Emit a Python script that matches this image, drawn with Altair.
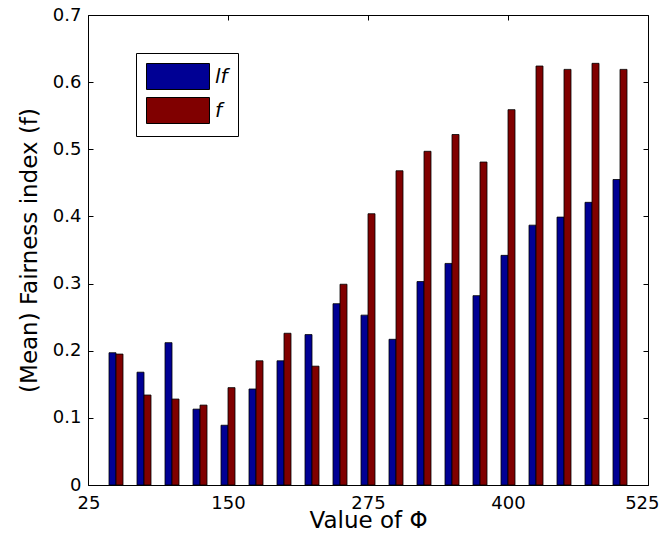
import altair as alt
import pandas as pd

# ---- data ----
phi = [50, 75, 100, 125, 150, 175, 200, 225, 250, 275, 300, 325, 350, 375, 400, 425, 450, 475, 500]
lf_vals = [0.197, 0.168, 0.212, 0.113, 0.089, 0.143, 0.185, 0.224, 0.270, 0.253,
           0.217, 0.303, 0.330, 0.282, 0.342, 0.387, 0.399, 0.421, 0.455]
f_vals = [0.195, 0.134, 0.128, 0.119, 0.145, 0.185, 0.226, 0.177, 0.299, 0.404,
          0.468, 0.497, 0.522, 0.481, 0.559, 0.624, 0.619, 0.628, 0.619]
series_names = ["lf", "f"]
series_colors = ["#000094", "#800000"]
x_ticks = [25, 150, 275, 400, 525]
y_ticks = [0, 0.1, 0.2, 0.3, 0.4, 0.5, 0.6, 0.7]

rows = []
for p, a, b in zip(phi, lf_vals, f_vals):
    rows.append({"phi": p, "series": series_names[0], "value": a, "order": 0})
    rows.append({"phi": p, "series": series_names[1], "value": b, "order": 1})
df = pd.DataFrame(rows)

FONT = "DejaVu Sans"
xscale = alt.Scale(domain=[25, 525], nice=False, zero=False)
yscale = alt.Scale(domain=[0, 0.7], nice=False, zero=True)

base = alt.Chart(df)

bars = base.transform_calculate(
    x0="datum.phi + (datum.order - 1) * 6.25",
    x1="datum.phi + datum.order * 6.25",
).mark_bar(stroke="black", strokeWidth=0.8, opacity=1).encode(
    x=alt.X("x0:Q", scale=xscale,
            axis=alt.Axis(values=x_ticks, format="d", tickSize=0, domain=False, grid=False,
                          labelFlush=True, labelFlushOffset=11, labelPadding=9,
                          labelFontSize=18,
                          title="Value of Φ", titleFontSize=23, titlePadding=-3)),
    x2="x1:Q",
    y=alt.Y("value:Q", scale=yscale,
            axis=alt.Axis(values=y_ticks, format=".1~f", tickSize=0, domain=False, grid=False,
                          labelFlush=False, labelPadding=7, labelFontSize=18,
                          title="(Mean) Fairness index (f)", titleFontSize=23, titlePadding=11)),
    y2=alt.datum(0),
    color=alt.Color("series:N", scale=alt.Scale(domain=series_names, range=series_colors),
                    legend=alt.Legend(title=None, orient="none", legendX=48, legendY=38,
                                      fillColor="white", strokeColor="black", padding=10,
                                      cornerRadius=0,
                                      symbolType="M-1,-1H3.846V1H-1Z", symbolSize=676,
                                      symbolStrokeColor="black", symbolStrokeWidth=1,
                                      symbolOpacity=1,
                                      labelFont=FONT, labelFontSize=20, labelFontStyle="italic",
                                      labelColor="black", labelOffset=42, rowPadding=3)),
)

ticks_bl = base.mark_point(opacity=0).encode(
    x=alt.X("phi:Q", scale=xscale, axis=alt.Axis(orient="bottom", offset=-5, values=x_ticks,
                                                 labels=False, domain=False, grid=False,
                                                 tickSize=5, title=None)),
    y=alt.Y("value:Q", scale=yscale, axis=alt.Axis(orient="left", offset=-5, values=y_ticks,
                                                   labels=False, domain=False, grid=False,
                                                   tickSize=5, title=None)),
)
ticks_tr = base.mark_point(opacity=0).encode(
    x=alt.X("phi:Q", scale=xscale, axis=alt.Axis(orient="top", offset=-5, values=x_ticks,
                                                 labels=False, domain=False, grid=False,
                                                 tickSize=5, title=None)),
    y=alt.Y("value:Q", scale=yscale, axis=alt.Axis(orient="right", offset=-5, values=y_ticks,
                                                   labels=False, domain=False, grid=False,
                                                   tickSize=5, title=None)),
)

chart = alt.layer(bars, ticks_bl, ticks_tr).resolve_axis(
    x="independent", y="independent"
).properties(
    width=560, height=470,
    autosize=alt.AutoSizeParams(type="none"),
    padding={"left": 80, "top": 7, "right": 11, "bottom": 43},
).configure_view(
    stroke="black", strokeWidth=1
).configure_axis(
    labelFont=FONT, titleFont=FONT, labelColor="black", titleColor="black",
    tickColor="black", titleFontWeight="normal"
)

chart.save("out.html", embed_options={"renderer": "svg", "actions": False})
